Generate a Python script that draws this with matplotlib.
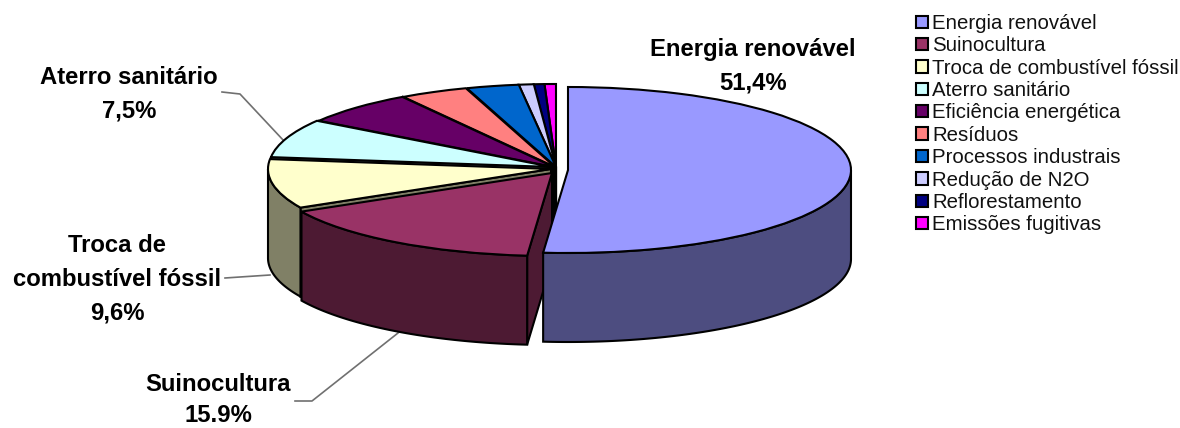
import numpy as np
import matplotlib
matplotlib.use("Agg")
import matplotlib.pyplot as plt
from matplotlib.patches import Polygon

plt.rcParams['font.family'] = ['Liberation Sans', 'DejaVu Sans']

categorias = ["Energia renovável", "Suinocultura", "Troca de combustível fóssil",
              "Aterro sanitário", "Eficiência energética", "Resíduos",
              "Processos industrais", "Redução de N2O", "Reflorestamento",
              "Emissões fugitivas"]
valores = [51.4, 15.9, 9.6, 7.5, 6.6, 3.9, 3.0, 0.85, 0.6, 0.65]
cores = ["#9999FF", "#993366", "#FFFFCC", "#CCFFFF", "#660066",
         "#FF8080", "#0066CC", "#CCCCFF", "#000080", "#FF00FF"]
# deslocamento de cada fatia em pixels (x, y para baixo)
deslocamento = [(12, 2), (-4, 5), (-5, 1), (-4, -1), (-2, -1),
                (-1, -1), (0, -1), (0, -1), (0, -1), (0, -1)]

W, H = 1180, 428
CX, CY = 556, 168      # centro da pizza em pixels
RX, RY = 283, 83       # raio horizontal e vertical
ALTURA = 89 / RY       # altura do cilindro

fig = plt.figure(figsize=(W / 100, H / 100), dpi=100)

# eixo em pixels para rotulos e linhas guia
ax_px = fig.add_axes([0, 0, 1, 1], zorder=0)
ax_px.set_xlim(0, W)
ax_px.set_ylim(H, 0)
ax_px.axis("off")

# eixo da pizza: uma unidade vale RX na horizontal e RY na vertical
ax = fig.add_axes([0, 0, 1, 1], zorder=1)
wedges, _ = ax.pie(valores, colors=cores, startangle=90, counterclock=False,
                   wedgeprops=dict(edgecolor="black", linewidth=1.5))
ax.set_aspect("auto")
ax.set_xlim(-CX / RX, (W - CX) / RX)
ax.set_ylim(-(H - CY) / RY, CY / RY)
ax.patch.set_alpha(0)


def escurecer(cor):
    return tuple(c * 0.5 for c in matplotlib.colors.to_rgb(cor))


n = len(valores)
for i, w in enumerate(wedges):
    dx, dy = deslocamento[i][0] / RX, -deslocamento[i][1] / RY
    w.set_center((dx, dy))
    w.set_zorder(2 * (n - i) + 1)
    estilo = dict(facecolor=escurecer(cores[i]), edgecolor="black",
                  linewidth=1.5, zorder=2 * (n - i))

    # paredes radiais voltadas para a frente
    for ang, normal in ((w.theta1, w.theta1 - 90), (w.theta2, w.theta2 + 90)):
        if np.sin(np.radians(normal)) < -1e-6:
            px, py = dx + np.cos(np.radians(ang)), dy + np.sin(np.radians(ang))
            ax.add_patch(Polygon([(dx, dy), (px, py), (px, py - ALTURA), (dx, dy - ALTURA)],
                                 closed=True, **estilo))

    # parede externa, so a parte da frente
    t = np.radians(np.linspace(w.theta1, w.theta2, 200))
    t = t[np.sin(t) <= 0]
    if len(t) > 1:
        x = dx + np.cos(t)
        y = dy + np.sin(t)
        pontos = np.concatenate([np.column_stack([x, y]),
                                 np.column_stack([x[::-1], y[::-1] - ALTURA])])
        ax.add_patch(Polygon(pontos, closed=True, **estilo))

# linhas guia
guia = dict(color="#707070", linewidth=1.2, zorder=1)
ax_px.plot([222, 240, 284], [92, 94, 141], **guia)
ax_px.plot([225, 270], [278, 275], **guia)
ax_px.plot([295, 312, 398], [401, 401, 333], **guia)

# rotulos
rotulo = dict(ha="center", va="center", fontsize=17.2, fontweight="bold", linespacing=1.6)
ax_px.text(753, 66, "Energia renovável\n51,4%", **rotulo)
ax_px.text(129, 94, "Aterro sanitário\n7,5%", **rotulo)
ax_px.text(117, 279, "Troca de\ncombustível fóssil\n9,6%", **rotulo)
# ultimo rotulo mais compacto para caber na margem de baixo
ax_px.text(218, 400, "Suinocultura\n15.9%", ha="center", va="center", fontsize=17.2,
           fontweight="bold", linespacing=1.42)

fig.legend(wedges, categorias, loc="upper left", bbox_to_anchor=(916 / W, 1 - 14 / H),
           frameon=False, fontsize=14.7, borderpad=0, borderaxespad=0, labelspacing=0.165,
           handlelength=0.59, handleheight=0.55, handletextpad=0.2, labelcolor="#111111")

fig.savefig("out.png", dpi=100)
plt.close(fig)
